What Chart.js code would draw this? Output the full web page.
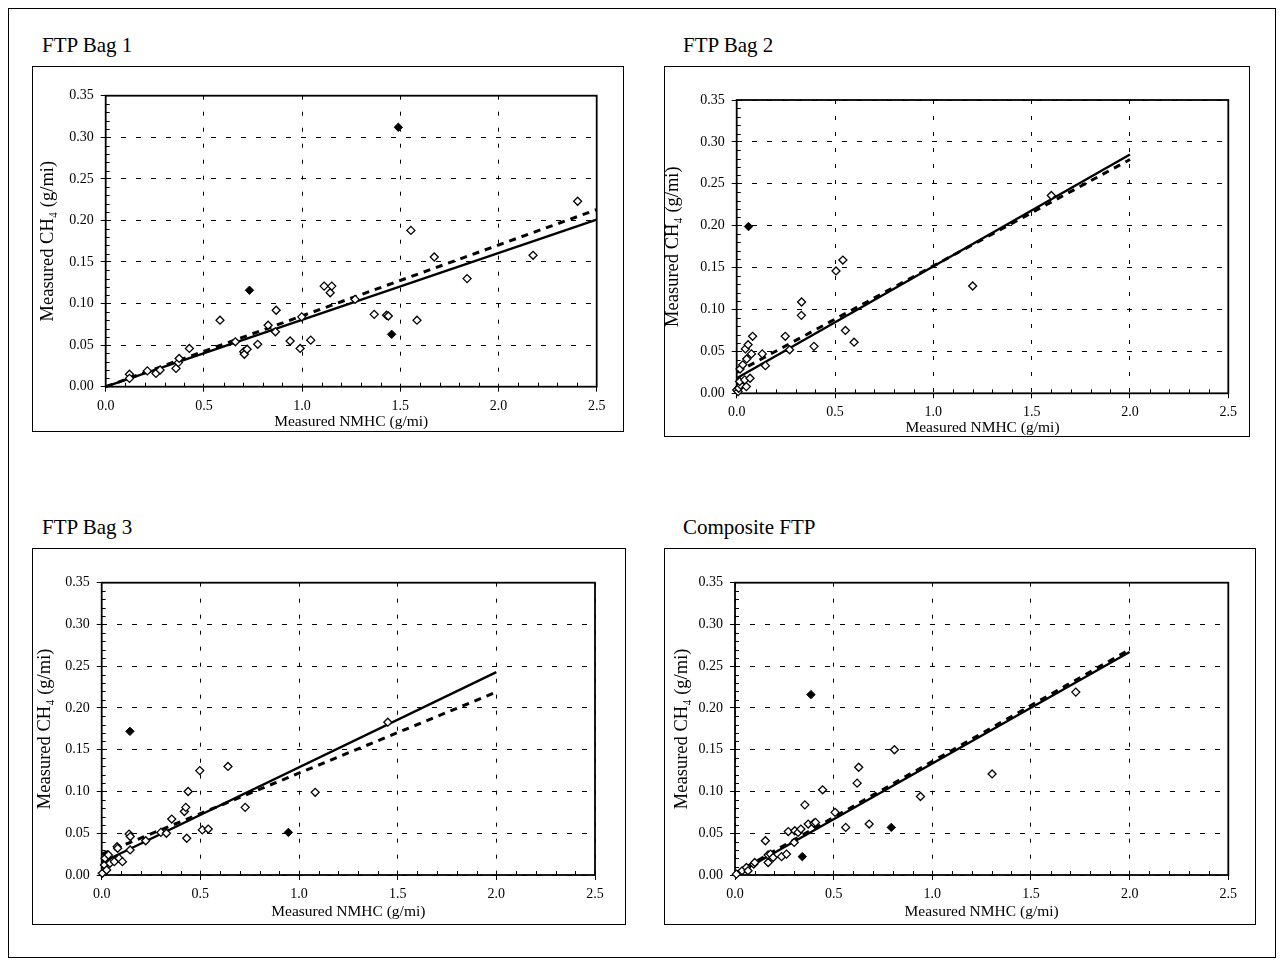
<!DOCTYPE html>
<html>
<head>
<meta charset="utf-8">
<title>Measured CH4 vs NMHC</title>
<script src="https://cdn.jsdelivr.net/npm/chart.js@4.4.1/dist/chart.umd.min.js"></script>
<style>
  html, body { margin: 0; padding: 0; background: #fff; }
  body {
    width: 1283px; height: 967px; position: relative; overflow: hidden;
    font-family: "Liberation Serif", "Times New Roman", serif; color: #000;
  }
  #frame { position: absolute; left: 8px; top: 8px; width: 1266px; height: 948px; border: 1px solid #000; }
  .ptitle { position: absolute; font-size: 21px; line-height: 21px; white-space: nowrap; }
  .box { position: absolute; border: 1px solid #000; box-sizing: border-box; }
  .box canvas { display: block; }
</style>
</head>
<body>
<div id="frame"></div>

<div class="ptitle" style="left:42px; top:35px;">FTP Bag 1</div>
<div class="ptitle" style="left:683px; top:35px;">FTP Bag 2</div>
<div class="ptitle" style="left:42px; top:517px;">FTP Bag 3</div>
<div class="ptitle" style="left:683px; top:517px;">Composite FTP</div>

<div class="box" id="box1"><canvas id="c1"></canvas></div>
<div class="box" id="box2"><canvas id="c2"></canvas></div>
<div class="box" id="box3"><canvas id="c3"></canvas></div>
<div class="box" id="box4"><canvas id="c4"></canvas></div>

<script>
/* =========================================================
   DATA
========================================================= */
const xTicks = [0, 0.5, 1.0, 1.5, 2.0, 2.5];
const yTicks = [0, 0.05, 0.10, 0.15, 0.20, 0.25, 0.30, 0.35];
const xTitle = "Measured NMHC (g/mi)";
const yTitle = "Measured CH\u2084 (g/mi)";

// FTP Bag 1
const bag1Open = [
  [0.121, 0.015], [0.121, 0.010], [0.212, 0.019], [0.256, 0.016], [0.277, 0.020],
  [0.358, 0.022], [0.370, 0.029], [0.374, 0.034], [0.426, 0.046], [0.582, 0.080],
  [0.660, 0.054], [0.703, 0.042], [0.706, 0.039], [0.720, 0.045], [0.774, 0.051],
  [0.827, 0.074], [0.868, 0.092], [0.864, 0.066], [0.939, 0.055], [0.990, 0.046],
  [0.998, 0.084], [1.044, 0.056], [1.112, 0.121], [1.151, 0.121], [1.143, 0.113],
  [1.270, 0.105], [1.367, 0.087], [1.430, 0.086], [1.439, 0.085], [1.554, 0.188],
  [1.585, 0.080], [1.673, 0.156], [1.840, 0.130], [2.176, 0.158], [2.403, 0.223]
];
const bag1Filled = [[0.732, 0.116], [1.490, 0.312], [1.456, 0.063]];
const bag1SolidX = [0, 2.5];
const bag1SolidY = [0, 0.201];
const bag1DashX = [0, 2.5];
const bag1DashY = [0, 0.213];

// FTP Bag 2
const bag2Open = [
  [0.000, 0.004], [0.007, 0.002], [0.010, 0.006], [0.020, 0.010], [0.015, 0.014],
  [0.049, 0.008], [0.041, 0.016], [0.068, 0.018], [0.017, 0.029], [0.031, 0.034],
  [0.051, 0.041], [0.075, 0.047], [0.044, 0.053], [0.058, 0.058], [0.081, 0.068],
  [0.130, 0.047], [0.146, 0.033], [0.247, 0.068], [0.269, 0.052], [0.329, 0.093],
  [0.330, 0.109], [0.393, 0.056], [0.505, 0.146], [0.540, 0.159], [0.553, 0.075],
  [0.597, 0.061], [1.200, 0.128], [1.600, 0.236]
];
const bag2Filled = [[0.060, 0.199]];
const bag2SolidX = [0, 2.0];
const bag2SolidY = [0.018, 0.285];
const bag2DashX = [0, 2.0];
const bag2DashY = [0.025, 0.279];

// FTP Bag 3
const bag3Open = [
  [0.003, 0.002], [0.014, 0.012], [0.025, 0.006], [0.017, 0.020], [0.034, 0.024],
  [0.042, 0.014], [0.064, 0.016], [0.088, 0.020], [0.105, 0.016], [0.078, 0.034],
  [0.081, 0.032], [0.144, 0.030], [0.139, 0.049], [0.145, 0.046], [0.223, 0.041],
  [0.300, 0.051], [0.328, 0.050], [0.355, 0.067], [0.419, 0.076], [0.426, 0.081],
  [0.431, 0.044], [0.438, 0.100], [0.497, 0.125], [0.510, 0.054], [0.540, 0.055],
  [0.640, 0.130], [0.727, 0.081], [1.082, 0.099], [1.450, 0.183]
];
const bag3Filled = [[0.143, 0.172], [0.946, 0.051]];
const bag3SolidX = [0, 2.0];
const bag3SolidY = [0.015, 0.243];
const bag3DashX = [0, 2.0];
const bag3DashY = [0.025, 0.219];

// Composite FTP
const compOpen = [
  [0.007, 0.001], [0.036, 0.005], [0.058, 0.009], [0.066, 0.005], [0.095, 0.013],
  [0.100, 0.015], [0.154, 0.041], [0.168, 0.015], [0.168, 0.024], [0.180, 0.025],
  [0.193, 0.021], [0.236, 0.022], [0.261, 0.025], [0.270, 0.052], [0.300, 0.039],
  [0.303, 0.053], [0.320, 0.051], [0.334, 0.055], [0.354, 0.084], [0.371, 0.061],
  [0.400, 0.062], [0.408, 0.063], [0.444, 0.102], [0.507, 0.075], [0.561, 0.057],
  [0.619, 0.110], [0.627, 0.129], [0.680, 0.061], [0.808, 0.150], [0.940, 0.094],
  [1.303, 0.121], [1.727, 0.219]
];
const compFilled = [[0.341, 0.022], [0.385, 0.216], [0.792, 0.057]];
const compSolidX = [0, 2.0];
const compSolidY = [0, 0.267];
const compDashX = [0, 2.0];
const compDashY = [0.002, 0.270];

/* =========================================================
   LAYOUT (page pixels)
========================================================= */
const FONT = "'Liberation Serif', 'Times New Roman', serif";
Chart.defaults.font.family = FONT;
Chart.defaults.color = "#000";

const X_TITLE_SIZE = 15.5;
const Y_TITLE_SIZE = 18.5;

const panels = [
  { canvas: "c1", box: "box1", rect: [32, 66, 624, 432], area: [105.7, 95.7, 596.7, 386.7], xTitleY: 422, yTitleX: 48,
    open: bag1Open, filled: bag1Filled, solid: [bag1SolidX, bag1SolidY], dash: [bag1DashX, bag1DashY] },
  { canvas: "c2", box: "box2", rect: [664, 66, 1250, 437], area: [736.7, 100, 1228.3, 393.3], xTitleY: 428, yTitleX: 673,
    open: bag2Open, filled: bag2Filled, solid: [bag2SolidX, bag2SolidY], dash: [bag2DashX, bag2DashY] },
  { canvas: "c3", box: "box3", rect: [32, 548, 626, 925], area: [101.7, 582.7, 595, 875], xTitleY: 912, yTitleX: 45,
    open: bag3Open, filled: bag3Filled, solid: [bag3SolidX, bag3SolidY], dash: [bag3DashX, bag3DashY] },
  { canvas: "c4", box: "box4", rect: [664, 548, 1256, 925], area: [735, 582.7, 1228.3, 875], xTitleY: 912, yTitleX: 682,
    open: compOpen, filled: compFilled, solid: [compSolidX, compSolidY], dash: [compDashX, compDashY] }
];

/* =========================================================
   PLUGIN: plot frame + minor ticks
========================================================= */
const frameAndTicks = {
  id: "frameAndTicks",
  beforeDatasetsDraw(chart) {
    const { ctx, chartArea: a, scales: { x, y } } = chart;
    ctx.save();
    ctx.strokeStyle = "#000";
    ctx.lineWidth = 1;
    ctx.setLineDash([]);
    ctx.beginPath();
    const nx = Math.round(x.max / 0.1);
    for (let i = 1; i < nx; i++) {
      if (i % 5 === 0) continue;
      const px = Math.round(x.getPixelForValue(i / 10)) + 0.5;
      ctx.moveTo(px, a.bottom);
      ctx.lineTo(px, a.bottom - 4);
    }
    const ny = Math.round(y.max / 0.01);
    for (let i = 1; i < ny; i++) {
      if (i % 5 === 0) continue;
      const py = Math.round(y.getPixelForValue(i / 100)) + 0.5;
      ctx.moveTo(a.left, py);
      ctx.lineTo(a.left + 4, py);
    }
    ctx.stroke();
    ctx.lineWidth = 1.8;
    ctx.strokeRect(a.left, a.top, a.right - a.left, a.bottom - a.top);
    ctx.restore();
  }
};

/* =========================================================
   BUILD PANELS
========================================================= */
function toPoints(xs, ys) {
  return xs.map((v, i) => ({ x: v, y: ys[i] }));
}

function makePanel(p) {
  const [bl, bt, br, bb] = p.rect;
  const boxEl = document.getElementById(p.box);
  boxEl.style.left = bl + "px";
  boxEl.style.top = bt + "px";
  boxEl.style.width = (br - bl) + "px";
  boxEl.style.height = (bb - bt) + "px";

  const ox = bl + 1, oy = bt + 1;
  const cw = br - bl - 2, ch = bb - bt - 2;
  const cv = document.getElementById(p.canvas);
  cv.width = cw;
  cv.height = ch;

  const aL = p.area[0] - ox, aT = p.area[1] - oy, aR = p.area[2] - ox, aB = p.area[3] - oy;
  const xLH = X_TITLE_SIZE * 1.2, yLH = Y_TITLE_SIZE * 1.2;
  const xt = p.yTitleX - ox, yt = p.xTitleY - oy;
  const xScaleH = yt + xLH / 2 - aB;

  new Chart(cv, {
    type: "scatter",
    data: {
      datasets: [
        {
          data: p.filled.map(d => ({ x: d[0], y: d[1] })),
          pointStyle: "rectRot", pointRadius: 4.2, pointHoverRadius: 4.2,
          backgroundColor: "#000", borderColor: "#000", borderWidth: 1
        },
        {
          data: p.open.map(d => ({ x: d[0], y: d[1] })),
          pointStyle: "rectRot", pointRadius: 4, pointHoverRadius: 4,
          backgroundColor: "#fff", borderColor: "#000", borderWidth: 1.3
        },
        {
          data: toPoints(p.solid[0], p.solid[1]),
          showLine: true, pointRadius: 0, borderColor: "#000", borderWidth: 2.4
        },
        {
          data: toPoints(p.dash[0], p.dash[1]),
          showLine: true, pointRadius: 0, borderColor: "#000", borderWidth: 3,
          borderDash: [7, 6]
        }
      ]
    },
    options: {
      responsive: false,
      animation: false,
      clip: false,
      layout: { padding: { left: 0, top: aT, right: cw - aR, bottom: ch - aB - xScaleH } },
      plugins: { legend: { display: false }, tooltip: { enabled: false } },
      scales: {
        x: {
          type: "linear", min: 0, max: 2.5,
          afterBuildTicks: s => { s.ticks = xTicks.map(v => ({ value: v })); },
          afterFit: s => { s.height = xScaleH; },
          ticks: { callback: v => Number(v).toFixed(1), font: { size: 14 }, padding: 6, maxRotation: 0 },
          grid: { color: "#000", lineWidth: 1, tickLength: 5, tickColor: "#000" },
          border: { display: false, dash: [4, 12] },
          title: { display: true, text: xTitle, font: { size: X_TITLE_SIZE, lineHeight: 1.2 }, padding: { top: 0, bottom: 0 } }
        },
        y: {
          type: "linear", min: 0, max: 0.35,
          afterBuildTicks: s => { s.ticks = yTicks.map(v => ({ value: v })); },
          afterFit: s => { s.width = aL; },
          ticks: { callback: v => Number(v).toFixed(2), font: { size: 14 }, padding: 7 },
          grid: { color: "#000", lineWidth: 1, tickLength: 5, tickColor: "#000" },
          border: { display: false, dash: [5, 10] },
          title: { display: true, text: yTitle, font: { size: Y_TITLE_SIZE, lineHeight: 1.2 }, padding: { top: xt - yLH / 2, bottom: 0 } }
        }
      }
    },
    plugins: [frameAndTicks]
  });
}

panels.forEach(makePanel);
</script>
</body>
</html>
